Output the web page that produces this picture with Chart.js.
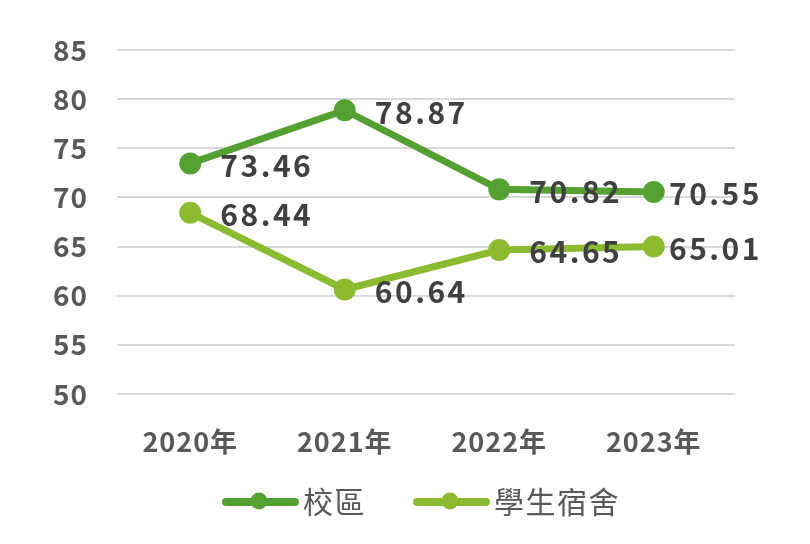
<!DOCTYPE html>
<html>
<head>
<meta charset="utf-8">
<script src="https://cdn.jsdelivr.net/npm/chart.js@4/dist/chart.umd.min.js"></script>
<style>
  html, body { margin: 0; padding: 0; background: #fff; }
  #wrap { width: 810px; height: 544px; }
</style>
</head>
<body>
<div id="wrap"><canvas id="chart" width="810" height="544"></canvas></div>
<script>
const years = ["2020年", "2021年", "2022年", "2023年"];
const campus = [73.46, 78.87, 70.82, 70.55];
const dorm = [68.44, 60.64, 64.65, 65.01];
const yTicks = [50, 55, 60, 65, 70, 75, 80, 85];

const darkGreen = "#55A032";
const lightGreen = "#8CBA30";
const fontFamily = "'Noto Sans CJK TC', 'Noto Sans', sans-serif";

const spacing = {
  id: "spacing",
  beforeDraw(chart) { chart.ctx.letterSpacing = "1px"; },
  afterLayout(chart) {
    // nudge category centres a little left of the plot area, like the original
    const x = chart.scales.x;
    x.left -= 4;
    x.right -= 4;
    x.configure();
  }
};

const valueLabels = {
  id: "valueLabels",
  afterDatasetsDraw(chart) {
    const ctx = chart.ctx;
    const maxRight = 762;
    ctx.save();
    ctx.font = "bold 30px " + fontFamily;
    ctx.letterSpacing = "2.5px";
    ctx.fillStyle = "#404040";
    ctx.textAlign = "left";
    ctx.textBaseline = "middle";
    chart.data.datasets.forEach((ds, i) => {
      chart.getDatasetMeta(i).data.forEach((pt, j) => {
        const text = ds.data[j].toFixed(2);
        const w = ctx.measureText(text).width;
        let x = pt.x + 30;
        if (x + w > maxRight) x = maxRight - w;
        ctx.fillText(text, x, pt.y + 2);
      });
    });
    ctx.restore();
  }
};

// legend drawn by hand: line + dot marker, then the label
const lineLegend = {
  id: "lineLegend",
  afterDraw(chart) {
    const ctx = chart.ctx;
    const y = 502;
    let x = 223;
    ctx.save();
    ctx.font = "30px " + fontFamily;
    ctx.letterSpacing = "1.5px";
    ctx.textAlign = "left";
    ctx.textBaseline = "middle";
    chart.data.datasets.forEach((ds) => {
      ctx.strokeStyle = ds.borderColor;
      ctx.lineWidth = 8;
      ctx.lineCap = "round";
      ctx.beginPath();
      ctx.moveTo(x + 3, y);
      ctx.lineTo(x + 72, y);
      ctx.stroke();
      ctx.fillStyle = ds.borderColor;
      ctx.beginPath();
      ctx.arc(x + 36, y - 1, 8.5, 0, Math.PI * 2);
      ctx.fill();
      ctx.fillStyle = "#595959";
      ctx.fillText(ds.label, x + 80, y);
      x += 80 + ctx.measureText(ds.label).width + 48;
    });
    ctx.restore();
  }
};

new Chart(document.getElementById("chart"), {
  type: "line",
  data: {
    labels: years,
    datasets: [
      {
        label: "校區",
        data: campus,
        borderColor: darkGreen,
        backgroundColor: darkGreen,
        borderWidth: 7,
        pointRadius: 7.5,
        pointHoverRadius: 7.5
      },
      {
        label: "學生宿舍",
        data: dorm,
        borderColor: lightGreen,
        backgroundColor: lightGreen,
        borderWidth: 7,
        pointRadius: 7.5,
        pointHoverRadius: 7.5
      }
    ]
  },
  options: {
    responsive: false,
    animation: false,
    layout: { padding: { left: 0, right: 75, top: 50, bottom: 68 } },
    plugins: {
      tooltip: { enabled: false },
      legend: { display: false }
    },
    scales: {
      x: {
        offset: true,
        grid: { display: false, drawTicks: false },
        border: { display: false },
        ticks: {
          padding: 32,
          color: "#595959",
          font: { family: fontFamily, size: 27, weight: "bold" }
        },
        afterFit(s) { s.height = 82; }
      },
      y: {
        min: 50,
        max: 85,
        afterBuildTicks(s) { s.ticks = yTicks.map(v => ({ value: v })); },
        grid: { color: "#D9D9D9", lineWidth: 2, drawTicks: false },
        border: { display: false },
        ticks: {
          padding: 29,
          color: "#595959",
          font: { family: fontFamily, size: 28, weight: "bold" }
        },
        afterFit(s) { s.width = 117; }
      }
    }
  },
  plugins: [spacing, valueLabels, lineLegend]
});
</script>
</body>
</html>
